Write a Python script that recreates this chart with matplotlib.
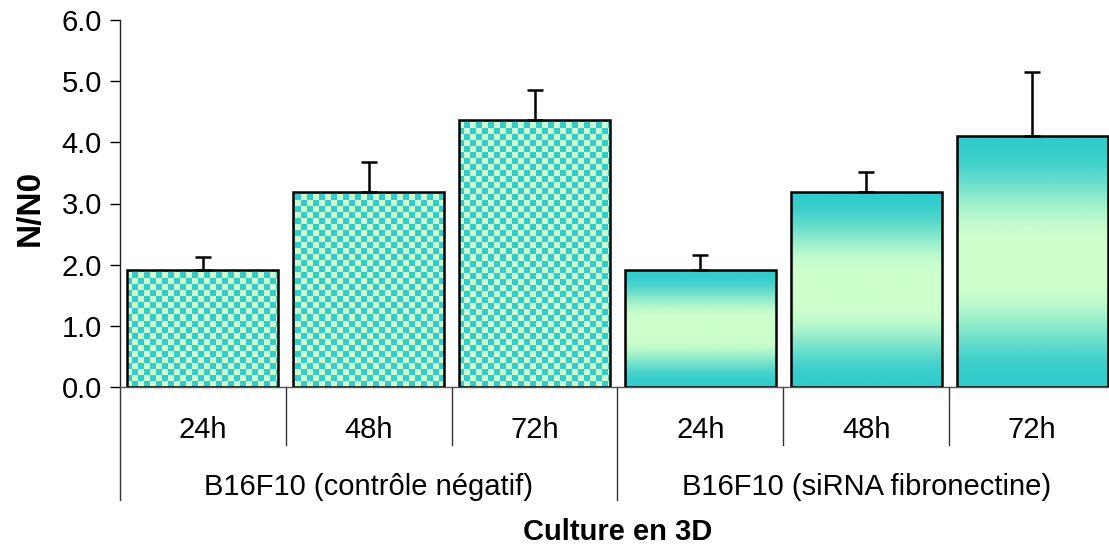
import numpy as np
import matplotlib
matplotlib.use("Agg")
import matplotlib.pyplot as plt
from matplotlib.colors import LinearSegmentedColormap
from matplotlib.patches import Rectangle

plt.rcParams['font.family'] = ['Liberation Sans', 'DejaVu Sans']

# ---- data ----
time_labels = ["24h", "48h", "72h", "24h", "48h", "72h"]
group_labels = ["B16F10 (contrôle négatif)", "B16F10 (siRNA fibronectine)"]
values = [1.92, 3.19, 4.36, 1.91, 3.19, 4.10]
errors = [0.20, 0.49, 0.49, 0.24, 0.33, 1.05]
y_ticks = [0.0, 1.0, 2.0, 3.0, 4.0, 5.0, 6.0]
y_label = "N/N0"
x_label = "Culture en 3D"

teal = "#33CCCC"
light = "#CCFFCC"
FS = 21

W, H = 1109, 546
fig = plt.figure(figsize=(W / 100, H / 100), dpi=100)
ax_left, ax_right, ax_top, ax_bottom = 120, 1115, 20, 387
ax = fig.add_axes([ax_left / W, 1 - ax_bottom / H, (ax_right - ax_left) / W, (ax_bottom - ax_top) / H])

n = len(values)
x = np.arange(n)
ax.set_xlim(-0.5, n - 0.5)
ax.set_ylim(0, 6)

bar_w = 0.91
bars = ax.bar(x, values, width=bar_w, facecolor="none", edgecolor="black", linewidth=1.8, zorder=3)

cmap2 = LinearSegmentedColormap.from_list("tl", [teal, light])
# checker image for the first group
cell = 6
nx = int((ax_right - ax_left) / cell)
ny = int((ax_bottom - ax_top) / cell)
ii, jj = np.meshgrid(np.arange(nx), np.arange(ny))
checker = ((ii + jj) % 2).astype(float)
# gradient image for the second group
g = np.linspace(0, 1, 400)
tri = 1 - np.abs(2 * g - 1)
t = np.clip((tri - 0.06) / 0.76, 0, 1)
t = t * t * (3 - 2 * t)
grad = t[:, None]

for i, b in enumerate(bars):
    if i < 3:
        im = ax.imshow(checker, cmap=cmap2, extent=(-0.5, n - 0.5, 0, 6), origin="lower",
                       aspect="auto", interpolation="nearest", zorder=2, vmin=0, vmax=1)
    else:
        x0 = b.get_x()
        im = ax.imshow(grad, cmap=cmap2, extent=(x0, x0 + b.get_width(), 0, b.get_height()),
                       origin="lower", aspect="auto", interpolation="bilinear", zorder=2, vmin=0, vmax=1)
    clip = Rectangle((b.get_x(), 0), b.get_width(), b.get_height(), transform=ax.transData)
    im.set_clip_path(clip)

ax.errorbar(x, values, yerr=[np.zeros(n), errors], fmt="none", ecolor="black",
            elinewidth=1.8, capsize=5.5, capthick=1.8, zorder=4)

# axes styling
for s in ["top", "right"]:
    ax.spines[s].set_visible(False)
ax.spines["left"].set_linewidth(1.0)
ax.spines["bottom"].set_linewidth(1.0)
ax.spines["left"].set_color("#222222")
ax.spines["bottom"].set_color("#555555")
ax.set_yticks(y_ticks)
ax.set_yticklabels([f"{v:.1f}" for v in y_ticks], fontsize=FS)
ax.tick_params(axis="y", length=7, width=1.0, pad=6)
ax.set_xticks([])

hpx = ax_bottom - ax_top
def ay(py):
    return (ax_bottom - py) / hpx

# separators
for k in range(n + 1):
    xs = k - 0.5
    long_sep = (k % 3 == 0)
    ybot = ay(500) if long_sep else ay(445)
    ax.plot([xs, xs], [0, ybot], transform=ax.get_xaxis_transform(), color="#333333",
            linewidth=1.0, clip_on=False)

for i, lab in enumerate(time_labels):
    ax.text(x[i], ay(430), lab, transform=ax.get_xaxis_transform(), ha="center", va="center", fontsize=FS)
for gi, lab in enumerate(group_labels):
    ax.text(gi * 3 + 1, ay(487), lab, transform=ax.get_xaxis_transform(), ha="center", va="center", fontsize=FS)

fig.text(617.5 / W, 1 - 532 / H, x_label, ha="center", va="center", fontsize=FS, fontweight="bold")
fig.text(30 / W, 1 - 208 / H, y_label, ha="center", va="center", fontsize=FS + 3, fontweight="bold", rotation=90)

fig.savefig("out.png", dpi=100)
